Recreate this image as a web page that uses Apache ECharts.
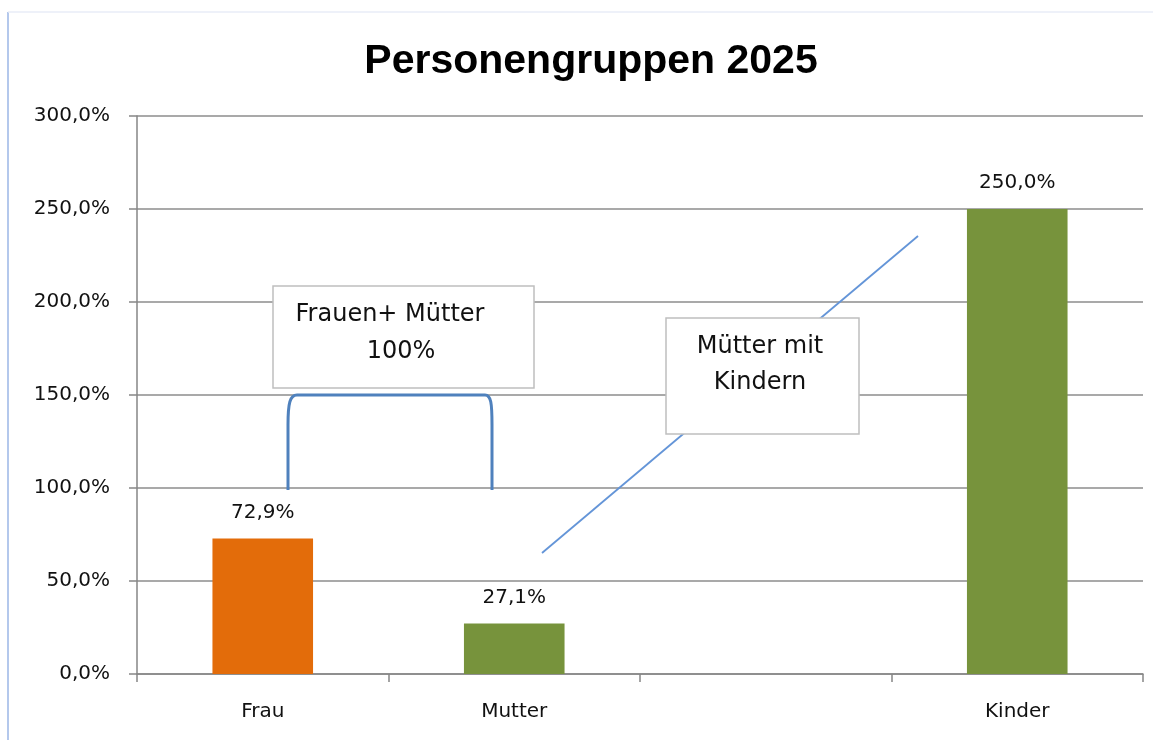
<!DOCTYPE html>
<html>
<head>
<meta charset="utf-8">
<title>Personengruppen 2025</title>
<script src="https://cdn.jsdelivr.net/npm/echarts@6/dist/echarts.min.js"></script>
<style>
  html, body { margin: 0; padding: 0; background: #fff; }
  #chart { width: 1153px; height: 740px; }
</style>
</head>
<body>
<div id="chart"></div>
<script>
// chart data
var categories = ['Frau', 'Mutter', '', 'Kinder'];
var values = [72.9, 27.1, null, 250.0];
var barColors = ['#e36c0a', '#77933c', '#77933c', '#77933c'];
var yMin = 0, yMax = 300, yStep = 50;

function pct(v) {
    return v.toFixed(1).replace('.', ',') + '%';
}

var labelFont = 'DejaVu Sans';

var option = {
    animation: false,
    backgroundColor: '#fff',
    title: {
        text: 'Personengruppen 2025',
        left: 586,
        textAlign: 'center',
        top: 36,
        textStyle: {
            fontFamily: 'Liberation Sans',
            fontWeight: 'bold',
            fontSize: 41,
            color: '#000'
        }
    },
    grid: {
        left: 137,
        right: 10,
        top: 116,
        bottom: 66,
        containLabel: false
    },
    xAxis: {
        type: 'category',
        data: categories,
        boundaryGap: true,
        axisLine: { lineStyle: { color: '#868686', width: 1.5 } },
        axisTick: { show: true, length: 8, alignWithLabel: false, lineStyle: { color: '#868686', width: 1.5 } },
        axisLabel: { margin: 28, color: '#111', fontFamily: labelFont, fontSize: 20 }
    },
    yAxis: {
        type: 'value',
        min: yMin,
        max: yMax,
        interval: yStep,
        axisLine: { show: true, lineStyle: { color: '#868686', width: 1.5 } },
        axisTick: { show: true, length: 8, lineStyle: { color: '#868686', width: 1.5 } },
        splitLine: { lineStyle: { color: '#8c8c8c', width: 1.5 } },
        axisLabel: {
            margin: 27,
            color: '#111',
            fontFamily: labelFont,
            fontSize: 20,
            formatter: function (v) { return pct(v); }
        }
    },
    series: [{
        type: 'bar',
        data: values,
        barWidth: '40%',
        itemStyle: {
            color: function (p) { return barColors[p.dataIndex]; }
        },
        label: {
            show: true,
            position: 'top',
            distance: 16,
            color: '#111',
            fontFamily: labelFont,
            fontSize: 20,
            formatter: function (p) { return pct(p.value); }
        }
    }]
};

var myChart = echarts.init(document.getElementById('chart'));
myChart.setOption(option);

// annotations (bracket, text boxes, connector line)
var y100 = myChart.convertToPixel({ yAxisIndex: 0 }, 100);
var y150 = myChart.convertToPixel({ yAxisIndex: 0 }, 150);
var bx1 = 288, bx2 = 492;
var bracketStyle = { stroke: '#4f81bd', lineWidth: 3, fill: null };
var boxStyle = { fill: '#fff', stroke: '#bfbfbf', lineWidth: 1.5 };
var noteFont = '24px "DejaVu Sans"';

function note(x, y, text) {
    return { type: 'text', z: 111, x: x, y: y, style: { text: text, fill: '#111', font: noteFont, textAlign: 'center', textVerticalAlign: 'middle' } };
}

myChart.setOption({
    graphic: [
        { type: 'line', z: 100, shape: { x1: 8, y1: 12, x2: 8, y2: 740 }, style: { stroke: '#b4c8ec', lineWidth: 2 } },
        { type: 'line', z: 100, shape: { x1: 8, y1: 12, x2: 1153, y2: 12 }, style: { stroke: '#e9edf7', lineWidth: 1.5 } },
        // bracket
        { type: 'line', z: 100, shape: { x1: bx1, y1: y100 + 2, x2: bx1, y2: y150 + 30 }, style: bracketStyle },
        { type: 'bezierCurve', z: 100, shape: { x1: bx1, y1: y150 + 30, cpx1: bx1, cpy1: y150 + 8, cpx2: bx1 + 2, cpy2: y150, x2: bx1 + 9, y2: y150 }, style: bracketStyle },
        { type: 'line', z: 100, shape: { x1: bx1 + 9, y1: y150, x2: bx2 - 7, y2: y150 }, style: bracketStyle },
        { type: 'bezierCurve', z: 100, shape: { x1: bx2 - 7, y1: y150, cpx1: bx2 - 1, cpy1: y150, cpx2: bx2, cpy2: y150 + 8, x2: bx2, y2: y150 + 30 }, style: bracketStyle },
        { type: 'line', z: 100, shape: { x1: bx2, y1: y150 + 30, x2: bx2, y2: y100 + 2 }, style: bracketStyle },
        // connector line behind second box
        { type: 'line', z: 100, shape: { x1: 542, y1: 553, x2: 918, y2: 236 }, style: { stroke: '#6495d8', lineWidth: 1.8 } },
        { type: 'rect', z: 110, shape: { x: 273, y: 286, width: 261, height: 102 }, style: boxStyle },
        note(390, 315, 'Frauen+ Mütter'),
        note(401, 352, '100%'),
        { type: 'rect', z: 110, shape: { x: 666, y: 318, width: 193, height: 116 }, style: boxStyle },
        note(760, 347, 'Mütter mit'),
        note(760, 383, 'Kindern')
    ]
});
</script>
</body>
</html>
